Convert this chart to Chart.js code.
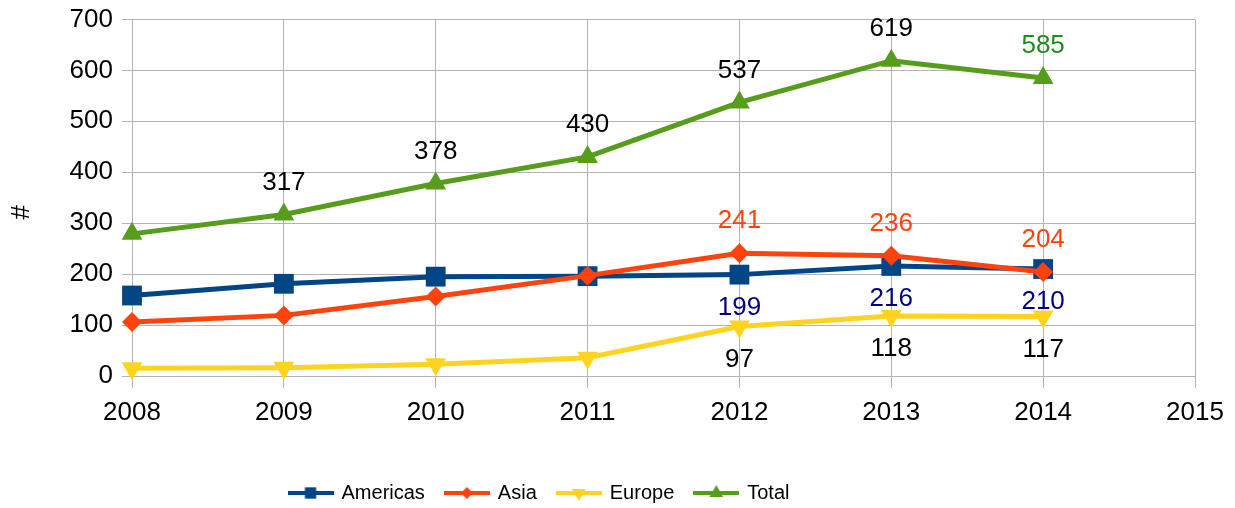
<!DOCTYPE html>
<html>
<head>
<meta charset="utf-8">
<script src="https://cdn.jsdelivr.net/npm/chart.js@4/dist/chart.umd.min.js"></script>
<style>
  html, body { margin: 0; padding: 0; background: #fff; }
</style>
</head>
<body>
<canvas id="chart" width="1235" height="508"></canvas>
<script>
// chart values
var years    = [2008, 2009, 2010, 2011, 2012, 2013, 2014];
var americas = [158, 181, 195, 196, 199, 216, 210];
var asia     = [106, 119, 156, 197, 241, 236, 204];
var europe   = [15, 16, 23, 36, 97, 118, 117];
var total    = [279, 317, 378, 430, 537, 619, 585];

// values printed next to the points (null = no label)
var americasShown = [null, null, null, null, 199, 216, 210];
var asiaShown     = [null, null, null, null, 241, 236, 204];
var europeShown   = [null, null, null, null, 97, 118, 117];
var totalShown    = [null, 317, 378, 430, 537, 619, 585];

var xMin = 2008, xMax = 2015;
var yMin = 0, yMax = 700, yStep = 100;

var GRID = '#b3b3b3';
var FONT = '"Liberation Sans", Arial, sans-serif';

Chart.defaults.font.family = FONT;
Chart.defaults.font.size = 26;
Chart.defaults.color = '#000';

function points(vals) {
  return vals.map(function (v, i) { return {x: years[i], y: v}; });
}

function fill(n, c) {
  var a = [];
  for (var i = 0; i < n; i++) a.push(c);
  return a;
}

// small canvas with line + marker for the legend
function legendIcon(color, style, radius, rotation) {
  var c = document.createElement('canvas');
  c.width = 46; c.height = 24;
  var g = c.getContext('2d');
  g.strokeStyle = color;
  g.lineWidth = 4;
  g.beginPath();
  g.moveTo(0, 12);
  g.lineTo(46, 12);
  g.stroke();
  g.fillStyle = color;
  Chart.helpers.drawPoint(g, {pointStyle: style, radius: radius, rotation: rotation, borderWidth: 0}, 23, 12);
  return c;
}

var valueLabels = {
  id: 'valueLabels',
  afterDatasetsDraw: function (chart) {
    var ctx = chart.ctx;
    ctx.save();
    ctx.font = '26px ' + FONT;
    ctx.textAlign = 'center';
    ctx.textBaseline = 'middle';
    chart.data.datasets.forEach(function (ds, i) {
      var meta = chart.getDatasetMeta(i);
      meta.data.forEach(function (pt, j) {
        var v = ds.shown[j];
        if (v === null || v === undefined) return;
        ctx.fillStyle = ds.labelColors[j];
        ctx.fillText(String(v), pt.x, pt.y + ds.labelOffset);
      });
    });
    ctx.restore();
  }
};

// the legend in the original sits left of the canvas centre
var legendShift = {
  id: 'legendShift',
  afterLayout: function (chart) {
    var lg = chart.legend;
    if (!lg) return;
    lg.left -= 58;
    lg.right -= 58;
  }
};

var datasets = [
  {
    label: 'Americas', data: points(americas), shown: americasShown,
    labelColors: fill(7, '#000080'), labelOffset: 33,
    borderColor: '#004586', backgroundColor: '#004586',
    pointStyle: 'rect', pointRadius: 14, pointRotation: 0, order: 2,
    icon: legendIcon('#004586', 'rect', 8, 0)
  },
  {
    label: 'Asia', data: points(asia), shown: asiaShown,
    labelColors: fill(7, '#ff420e'), labelOffset: -32,
    borderColor: '#ff420e', backgroundColor: '#ff420e',
    pointStyle: 'rectRot', pointRadius: 10, pointRotation: 0, order: 1,
    icon: legendIcon('#ff420e', 'rectRot', 6, 0)
  },
  {
    label: 'Europe', data: points(europe), shown: europeShown,
    labelColors: fill(7, '#000'), labelOffset: 33,
    borderColor: '#ffd320', backgroundColor: '#ffd320',
    pointStyle: 'triangle', pointRadius: 12, pointRotation: 180, order: 3,
    icon: legendIcon('#ffd320', 'triangle', 8, 180)
  },
  {
    label: 'Total', data: points(total), shown: totalShown,
    labelColors: ['#000', '#000', '#000', '#000', '#000', '#000', '#1e8c1e'], labelOffset: -32,
    borderColor: '#579d1c', backgroundColor: '#579d1c',
    pointStyle: 'triangle', pointRadius: 12, pointRotation: 0, order: 4,
    icon: legendIcon('#579d1c', 'triangle', 8, 0)
  }
];

datasets.forEach(function (d) {
  d.borderWidth = 5;
  d.tension = 0;
  d.fill = false;
  d.clip = false;
  d.pointBorderWidth = 0;
  d.pointBackgroundColor = d.borderColor;
  d.pointHoverRadius = d.pointRadius;
});

new Chart(document.getElementById('chart'), {
  type: 'line',
  data: { datasets: datasets },
  options: {
    responsive: false,
    animation: false,
    layout: { padding: { top: 0, right: 40, bottom: -5, left: 0 } },
    plugins: {
      tooltip: { enabled: false },
      legend: {
        position: 'bottom',
        labels: {
          usePointStyle: true,
          pointStyleWidth: 42,
          padding: 21,
          font: { size: 20 },
          color: '#000',
          generateLabels: function (chart) {
            return chart.data.datasets.map(function (ds, i) {
              return {
                text: ds.label,
                pointStyle: ds.icon,
                fillStyle: ds.borderColor,
                strokeStyle: ds.borderColor,
                lineWidth: 0,
                fontColor: '#000',
                hidden: false,
                datasetIndex: i
              };
            });
          }
        }
      }
    },
    scales: {
      x: {
        type: 'linear',
        min: xMin, max: xMax,
        ticks: { stepSize: 1, padding: 9, color: '#000', font: { size: 26 },
          callback: function (v) { return String(v); } },
        grid: { color: GRID, lineWidth: 1, tickLength: 12, tickColor: GRID },
        border: { color: GRID },
        afterFit: function (s) { s.height = 86; }
      },
      y: {
        min: yMin, max: yMax,
        ticks: { stepSize: yStep, padding: 9, color: '#000', font: { size: 26, lineHeight: 0.8 } },
        grid: { color: GRID, lineWidth: 1, tickLength: 10, tickColor: GRID },
        border: { color: GRID },
        title: { display: true, text: '#    ', color: '#000', font: { size: 26 }, padding: { top: 6, bottom: 0 } },
        afterFit: function (s) { s.width = 132; }
      }
    }
  },
  plugins: [valueLabels, legendShift]
});
</script>
</body>
</html>
